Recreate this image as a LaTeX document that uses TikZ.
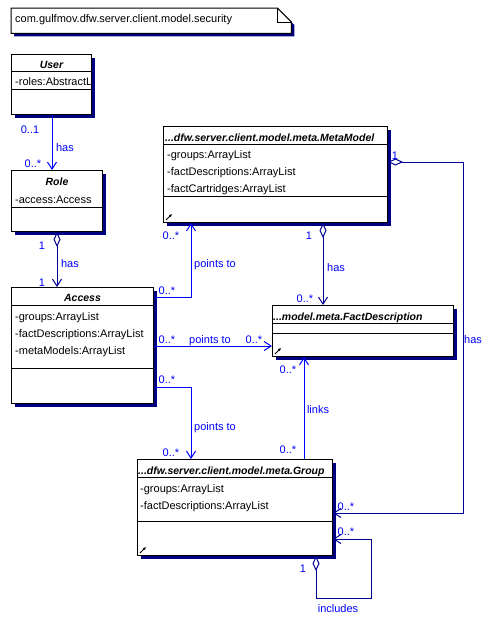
\documentclass[tikz,border=0pt]{standalone}
\usepackage{fontspec}
\setmainfont{Liberation Sans}
\usetikzlibrary{arrows.meta,shadows}

\definecolor{linkblue}{RGB}{0,0,255}
\definecolor{darklink}{RGB}{0,0,150}
\definecolor{shadownavy}{RGB}{0,0,128}
\newcommand\umlfont{\fontsize{11}{13}\selectfont}
\newcommand\umltitlefont{\fontsize{10.5}{13}\selectfont\bfseries\itshape}

\tikzset{
  umlshadow/.style={drop shadow={shadow xshift=3pt, shadow yshift=-3pt,
      fill=shadownavy, opacity=1}},
  classbox/.style={draw=black, line width=1pt, fill=white, inner sep=0pt,
    anchor=north west, umlshadow},
  ctitle/.style={font=\umltitlefont, inner sep=0pt,
    text height=8pt, text depth=0pt},
  cattr/.style={font=\umlfont, inner sep=0pt, anchor=west,
    text height=8pt, text depth=0pt},
  mult/.style={font=\umlfont, text=linkblue, inner sep=0pt,
    text height=8pt, text depth=0pt},
  assoc/.style={line width=1pt, -{Straight Barb[length=7pt,width=9pt]}},
  aggr/.style={line width=1pt,
    {Diamond[length=15pt,width=7pt,fill=white]}-{Straight Barb[length=7pt,width=9pt]}},
  shortcut/.style={line width=1pt, -{Latex[length=3pt,width=3pt]}}
}

\begin{document}
\begin{tikzpicture}[x=1pt,y=-1pt]

  \newcommand\compart[2]{%
    \draw[line width=1pt] ([yshift=-#2]#1.north west) -- ([yshift=-#2]#1.north east);}

  \useasboundingbox (0,0) rectangle (497,624); %% page

  %% package note
  \node[minimum width=280pt, minimum height=25pt, inner sep=0pt,
    anchor=north west] (pkg) at (11,8) {};
  \draw[line width=1pt, fill=white, umlshadow]
  (pkg.north west) -- ([xshift=-14pt]pkg.north east)
  -- ([yshift=-14pt]pkg.north east) -- (pkg.south east)
  -- (pkg.south west) -- cycle;
  \draw[line width=1pt] ([xshift=-14pt]pkg.north east)
  -- ([xshift=-14pt,yshift=-14pt]pkg.north east) -- ([yshift=-14pt]pkg.north east);
  \node[cattr] (pkg-t) at ([xshift=4pt,yshift=2.5pt]pkg.west)
  {com.gulfmov.dfw.server.client.model.security};

  %% classes
  \node[classbox, minimum width=80pt, minimum height=60pt] (user) at (11,54) {};
  \compart{user}{17pt} \compart{user}{35pt}
  \node[ctitle] (user-t) at ([yshift=-10pt]user.north) {User};
  \begin{scope}
    \clip (user.north west) rectangle (user.south east);
    \node[cattr] (user-a) at ([xshift=4pt,yshift=-27.5pt]user.north west) {-roles:AbstractL};
  \end{scope}

  \node[classbox, minimum width=91pt, minimum height=61pt] (role) at (11,170) {};
  \compart{role}{37pt}
  \node[ctitle] (role-t) at ([yshift=-11pt]role.north) {Role};
  \node[cattr] (role-a) at ([xshift=4pt,yshift=-29.5pt]role.north west) {-access:Access};

  \node[classbox, minimum width=142pt, minimum height=116pt] (access) at (11,287) {};
  \compart{access}{18pt} \compart{access}{81pt}
  \node[ctitle] (access-t) at ([yshift=-10pt]access.north) {Access};
  \node[cattr] (access-a1) at ([xshift=4pt,yshift=-29.5pt]access.north west) {-groups:ArrayList};
  \node[cattr] (access-a2) at ([xshift=4pt,yshift=-46.5pt]access.north west) {-factDescriptions:ArrayList};
  \node[cattr] (access-a3) at ([xshift=4pt,yshift=-63.5pt]access.north west) {-metaModels:ArrayList};

  \node[classbox, minimum width=224pt, minimum height=96pt] (mm) at (163,126) {};
  \compart{mm}{18pt} \compart{mm}{70pt}
  \begin{scope}
    \clip (mm.north west) rectangle (mm.south east);
    \node[ctitle, anchor=west] (mm-t) at ([xshift=2pt,yshift=-11pt]mm.north west)
    {...dfw.server.client.model.meta.MetaModel};
  \end{scope}
  \node[cattr] (mm-a1) at ([xshift=4pt,yshift=-28.5pt]mm.north west) {-groups:ArrayList};
  \node[cattr] (mm-a2) at ([xshift=4pt,yshift=-45.5pt]mm.north west) {-factDescriptions:ArrayList};
  \node[cattr] (mm-a3) at ([xshift=4pt,yshift=-62.5pt]mm.north west) {-factCartridges:ArrayList};
  \draw[shortcut] ([xshift=3pt,yshift=3pt]mm.south west) -- ++(6,-6);

  \node[classbox, minimum width=181pt, minimum height=51pt] (fd) at (272,305) {};
  \compart{fd}{18pt} \compart{fd}{28pt}
  \node[ctitle, anchor=west] (fd-t) at ([xshift=1pt,yshift=-11pt]fd.north west)
  {...model.meta.FactDescription};
  \draw[shortcut] ([xshift=3pt,yshift=3pt]fd.south west) -- ++(6,-6);

  \node[classbox, minimum width=195pt, minimum height=96pt] (group) at (137,459) {};
  \compart{group}{18pt} \compart{group}{62pt}
  \begin{scope}
    \clip (group.north west) rectangle (group.south east);
    \node[ctitle, anchor=west] (group-t) at ([xshift=1pt,yshift=-11pt]group.north west)
    {...dfw.server.client.model.meta.Group};
  \end{scope}
  \node[cattr] (group-a1) at ([xshift=3pt,yshift=-29pt]group.north west) {-groups:ArrayList};
  \node[cattr] (group-a2) at ([xshift=3pt,yshift=-46.5pt]group.north west) {-factDescriptions:ArrayList};
  \draw[shortcut] ([xshift=3pt,yshift=3pt]group.south west) -- ++(6,-6);

  %% associations
  \draw[assoc, linkblue] ([xshift=41pt]user.south west) -- ([xshift=41pt]role.north west);
  \draw[aggr, darklink] ([xshift=46pt]role.south west) -- ([xshift=46pt]access.north west);
  \draw[assoc, linkblue] ([yshift=-10pt]access.north east) -| ([xshift=28pt]mm.south west);
  \draw[assoc, linkblue] ([yshift=-59pt]access.north east) -- ([yshift=-41pt]fd.north west);
  \draw[assoc, linkblue] ([yshift=-100pt]access.north east) -| ([xshift=54pt]group.north west);
  \draw[aggr, darklink] ([xshift=160pt]mm.south west) -- ([xshift=51pt]fd.north west);
  \draw[assoc, linkblue] ([xshift=167pt]group.north west) -- ([xshift=32pt]fd.south west);
  \draw[aggr, darklink] ([yshift=-36pt]mm.north east) -- ++(75,0)
  |- ([yshift=-54pt]group.north east);
  \draw[aggr, darklink] ([xshift=179pt]group.south west) -- ++(0,42) -- ++(55,0)
  |- ([yshift=-80pt]group.north east);

  %% multiplicities and roles
  \node[mult] (ur-s) at (30,129) {0..1};
  \node[mult] (ur-m) at (65,147) {has};
  \node[mult] (ur-e) at (33,163) {0..*};

  \node[mult] (ra-s) at (42,245) {1};
  \node[mult] (ra-m) at (70,263) {has};
  \node[mult] (ra-e) at (42,282) {1};

  \node[mult] (am-s) at (167,290) {0..*};
  \node[mult] (am-m) at (215,263) {points to};
  \node[mult] (am-e) at (171,235) {0..*};

  \node[mult] (af-s) at (167,339) {0..*};
  \node[mult] (af-m) at (210,339) {points to};
  \node[mult] (af-e) at (254,339) {0..*};

  \node[mult] (ag-s) at (167,379) {0..*};
  \node[mult] (ag-m) at (215,426) {points to};
  \node[mult] (ag-e) at (171,452) {0..*};

  \node[mult] (mf-s) at (309,235) {1};
  \node[mult] (mf-m) at (336,267) {has};
  \node[mult] (mf-e) at (305,298) {0..*};

  \node[mult] (gf-s) at (288,449) {0..*};
  \node[mult] (gf-m) at (318,409) {links};
  \node[mult] (gf-e) at (288,369) {0..*};

  \node[mult] (mg-s) at (395,155) {1};
  \node[mult] (mg-m) at (473,339) {has};
  \node[mult] (mg-e) at (346,506) {0..*};

  \node[mult] (gg-s) at (303,568) {1};
  \node[mult] (gg-m) at (338,608) {includes};
  \node[mult] (gg-e) at (346,531) {0..*};

\end{tikzpicture}
\end{document}
